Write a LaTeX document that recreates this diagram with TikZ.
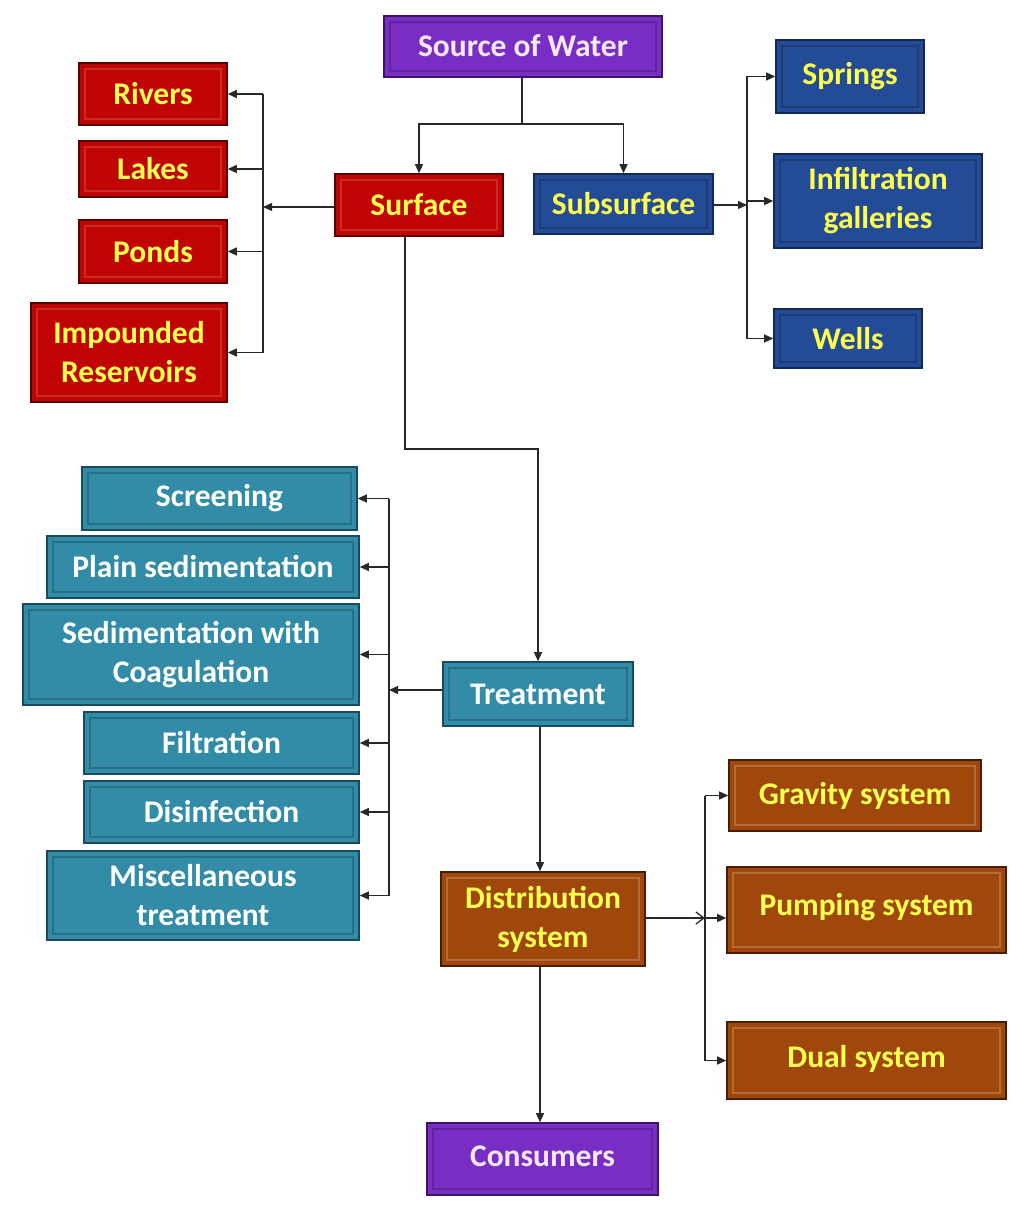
\documentclass[tikz,border=0pt]{standalone}
\usepackage{fontspec}
\setmainfont{Carlito}
\usetikzlibrary{arrows.meta}
\definecolor{purp}{RGB}{120,46,196}
\definecolor{purpd}{RGB}{60,20,100}
\definecolor{redf}{RGB}{192,4,4}
\definecolor{redd}{RGB}{90,0,0}
\definecolor{bluef}{RGB}{36,76,150}
\definecolor{blued}{RGB}{20,40,85}
\definecolor{tealf}{RGB}{50,140,168}
\definecolor{teald}{RGB}{25,75,95}
\definecolor{brownf}{RGB}{160,72,12}
\definecolor{brownd}{RGB}{70,30,5}
\definecolor{yell}{RGB}{255,255,80}
\definecolor{pinkw}{RGB}{248,232,248}
\definecolor{lnc}{RGB}{40,40,40}
\tikzset{
  bx/.style={rectangle, inner sep=0pt, line width=1.6pt, align=center,
    font=\fontsize{31.5}{39}\selectfont\bfseries},
  bevel/.style={path picture={\draw[#1, line width=1.1pt]
      ([shift={(6pt,-6pt)}]path picture bounding box.north west) rectangle
      ([shift={(-6pt,6pt)}]path picture bounding box.south east);}},
  purbox/.style={bx, fill=purp, draw=purpd, text=pinkw, bevel=purp!80!black},
  redbox/.style={bx, fill=redf, draw=redd, text=yell, bevel=redf!85!white},
  bluebox/.style={bx, fill=bluef, draw=blued, text=yell, bevel=bluef!80!black},
  tealbox/.style={bx, fill=tealf, draw=teald, text=white, bevel=tealf!80!black},
  brownbox/.style={bx, fill=brownf, draw=brownd, text=yell, bevel=brownf!80!white},
  ln/.style={draw=lnc, line width=1.3pt},
  arr/.style={ln, -{Triangle[length=9pt,width=8pt]}},
  oarr/.style={ln, -{Straight Barb[length=8pt,width=12pt]}},
}
\begin{document}
\begin{tikzpicture}[x=1pt,y=-1pt]
\useasboundingbox[fill=white] (0,0) rectangle (1032,1217);

% nodes
\node[purbox, minimum width=278pt, minimum height=61pt] (src) at (523,46.5) {\raisebox{2pt}{Source of Water}};

\node[redbox, minimum width=168pt, minimum height=62pt] (surf) at (419,205) {Surface};
\node[bluebox, minimum width=179pt, minimum height=60pt] (sub) at (623.5,204) {Subsurface};

\node[redbox, minimum width=148pt, minimum height=62pt] (riv) at (153,94) {Rivers};
\node[redbox, minimum width=148pt, minimum height=56pt] (lak) at (153,169) {Lakes};
\node[redbox, minimum width=148pt, minimum height=63pt] (pon) at (153,251.5) {Ponds};
\node[redbox, minimum width=196pt, minimum height=99pt] (imp) at (129,352.5) {Impounded\\Reservoirs};

\node[bluebox, minimum width=148pt, minimum height=73pt] (spr) at (850,76.5) {\raisebox{6pt}{Springs}};
\node[bluebox, minimum width=208pt, minimum height=94pt] (inf) at (878,201) {Infiltration\\galleries};
\node[bluebox, minimum width=148pt, minimum height=59pt] (wel) at (848,338.5) {Wells};

\node[tealbox, minimum width=190pt, minimum height=64pt] (tre) at (538,694) {Treatment};

\node[tealbox, minimum width=275pt, minimum height=63pt] (scr) at (219.5,498.5) {Screening};
\node[tealbox, minimum width=312pt, minimum height=62pt] (pla) at (203,567) {Plain sedimentation};
\node[tealbox, minimum width=336pt, minimum height=101pt] (sed) at (191,654.5) {Sedimentation with\\Coagulation};
\node[tealbox, minimum width=275pt, minimum height=62pt] (fil) at (221.5,743) {Filtration};
\node[tealbox, minimum width=275pt, minimum height=62pt] (dis) at (221.5,812) {Disinfection};
\node[tealbox, minimum width=312pt, minimum height=89pt] (mis) at (203,895.5) {Miscellaneous\\treatment};

\node[brownbox, minimum width=204pt, minimum height=94pt] (dst) at (543,919) {Distribution\\system};
\node[brownbox, minimum width=252pt, minimum height=71pt] (gra) at (855,795.5) {\raisebox{5pt}{Gravity system}};
\node[brownbox, minimum width=279pt, minimum height=86pt] (pum) at (866.5,910) {\raisebox{12pt}{Pumping system}};
\node[brownbox, minimum width=279pt, minimum height=77pt] (dua) at (866.5,1060.5) {\raisebox{8pt}{Dual system}};

\node[purbox, minimum width=231pt, minimum height=72pt] (con) at (542.5,1159) {\raisebox{6pt}{Consumers}};

% connectors: source
\coordinate (sj) at (522,124);
\draw[ln] (src.south -| sj) -- (sj);
\draw[arr] (sj) -| (surf.north);
\draw[arr] (sj) -| (sub.north);

% surface branches
\coordinate (lv) at (263,207);
\draw[arr] (surf.west |- lv) -- (lv);
\draw[ln] (lv |- riv.east) -- (lv |- imp.east);
\draw[arr] (lv |- riv.east) -- (riv.east);
\draw[arr] (lv |- lak.east) -- (lak.east);
\draw[arr] (lv |- pon.east) -- (pon.east);
\draw[arr] (lv |- imp.east) -- (imp.east);

% subsurface branches
\coordinate (rv) at (747,205);
\draw[arr] (sub.east |- rv) -- (rv);
\draw[ln] (rv |- spr.west) -- (rv |- wel.west);
\draw[arr] (rv |- spr.west) -- (spr.west);
\draw[arr] (rv |- inf.west) -- (inf.west);
\draw[arr] (rv |- wel.west) -- (wel.west);

% surface to treatment
\coordinate (tj) at (405,449);
\draw[arr] (surf.south -| tj) -- (tj) -| (tre.north);

% treatment branches
\coordinate (tv) at (389,690);
\draw[arr] (tre.west |- tv) -- (tv);
\draw[ln] (tv |- scr.east) -- (tv |- mis.east);
\draw[arr] (tv |- scr.east) -- (scr.east);
\draw[arr] (tv |- pla.east) -- (pla.east);
\draw[arr] (tv |- sed.east) -- (sed.east);
\draw[arr] (tv |- fil.east) -- (fil.east);
\draw[arr] (tv |- dis.east) -- (dis.east);
\draw[arr] (tv |- mis.east) -- (mis.east);

% treatment to distribution
\coordinate (td) at (540,726);
\draw[arr] (tre.south -| td) -- (dst.north -| td);

% distribution branches
\coordinate (dv) at (705,918);
\draw[oarr] (dst.east |- dv) -- (dv);
\draw[ln] (dv |- gra.west) -- (dv |- dua.west);
\draw[arr] (dv |- gra.west) -- (gra.west);
\draw[arr] (dv) -- (pum.west |- dv);
\draw[arr] (dv |- dua.west) -- (dua.west);

% distribution to consumers
\draw[arr] (dst.south -| td) -- (con.north -| td);
\end{tikzpicture}
\end{document}
